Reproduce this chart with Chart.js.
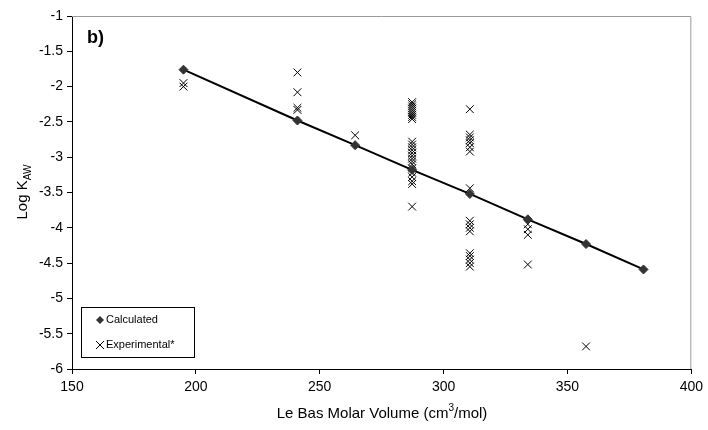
<!DOCTYPE html>
<html>
<head>
<meta charset="utf-8">
<script src="https://cdn.jsdelivr.net/npm/chart.js@4/dist/chart.umd.min.js"></script>
<style>
  html, body { margin: 0; padding: 0; background: #fff; }
  #wrap { width: 708px; height: 430px; }
</style>
</head>
<body>
<div id="wrap"><canvas id="kaw-chart" width="708" height="430"></canvas></div>
<script>
// Le Bas molar volume (x) vs Log KAW (y)
const calcX = [195, 241, 264.3, 287.3, 310.6, 334, 357.5, 380.7];
const calcY = [-1.76, -2.48, -2.83, -3.18, -3.52, -3.88, -4.23, -4.59];

const expX = [
    195, 195,
    241, 241, 241, 241,
    264.3,
    287.3, 287.3, 287.3, 287.3, 287.3, 287.3, 287.3, 287.3, 287.3,
    287.3, 287.3, 287.3, 287.3, 287.3, 287.3, 287.3, 287.3, 287.3,
    287.3, 287.3, 287.3, 287.3, 287.3, 287.3,
    310.6, 310.6, 310.6, 310.6, 310.6, 310.6, 310.6, 310.6,
    310.6, 310.6, 310.6, 310.6, 310.6, 310.6, 310.6, 310.6, 310.6,
    334, 334, 334, 334,
    357.5
];
const expY = [
    -1.95, -2.0,
    -1.8, -2.08, -2.3, -2.33,
    -2.69,
    -2.22, -2.25, -2.28, -2.31, -2.34, -2.37, -2.40, -2.43, -2.46,
    -2.78, -2.82, -2.86, -2.90, -2.94, -2.98, -3.02, -3.06, -3.10,
    -3.16, -3.22, -3.28, -3.34, -3.38, -3.70,
    -2.32, -2.68, -2.72, -2.76, -2.80, -2.86, -2.92, -3.44,
    -3.90, -3.95, -4.00, -4.05, -4.36, -4.40, -4.45, -4.50, -4.55,
    -3.95, -4.02, -4.10, -4.52,
    -5.68
];

const xTicks = [150, 200, 250, 300, 350, 400];
const yTicks = [-1, -1.5, -2, -2.5, -3, -3.5, -4, -4.5, -5, -5.5, -6];

const FONT = '"Liberation Sans", Arial, sans-serif';

const toPts = (xs, ys) => xs.map((x, i) => ({x: x, y: ys[i]}));

// frame, panel label, axis titles and the boxed legend
const decorPlugin = {
    id: 'decor',
    afterDraw(chart) {
        const c = chart.ctx;
        const a = chart.chartArea;
        c.save();
        // grey top / right frame
        c.strokeStyle = '#9a9a9a';
        c.lineWidth = 1;
        c.beginPath();
        c.moveTo(a.left, a.top + 0.5);
        c.lineTo(a.right - 0.5, a.top + 0.5);
        c.lineTo(a.right - 0.5, a.bottom);
        c.stroke();

        c.fillStyle = '#000';
        c.font = 'bold 18px ' + FONT;
        c.textBaseline = 'alphabetic';
        c.textAlign = 'left';
        c.fillText('b)', a.left + 15, a.top + 27);

        // x title
        const t1 = 'Le Bas Molar Volume (cm', t2 = '/mol)';
        c.font = '15px ' + FONT;
        const w1 = c.measureText(t1).width;
        c.font = '10px ' + FONT;
        const ws = c.measureText('3').width;
        c.font = '15px ' + FONT;
        const w2 = c.measureText(t2).width;
        const x0 = 382 - (w1 + ws + w2) / 2;
        const yb = 418;
        c.fillText(t1, x0, yb);
        c.font = '10px ' + FONT;
        c.fillText('3', x0 + w1, yb - 7);
        c.font = '15px ' + FONT;
        c.fillText(t2, x0 + w1 + ws, yb);

        // y title, rotated
        c.save();
        c.translate(27, 192);
        c.rotate(-Math.PI / 2);
        const s1 = 'Log K', s2 = 'AW';
        c.font = '15px ' + FONT;
        const v1 = c.measureText(s1).width;
        c.font = '10px ' + FONT;
        const v2 = c.measureText(s2).width;
        const sx = -(v1 + v2) / 2;
        c.font = '15px ' + FONT;
        c.fillText(s1, sx, 0);
        c.font = '10px ' + FONT;
        c.fillText(s2, sx + v1, 4);
        c.restore();

        // legend
        const lx = 81, ly = 307, lw = 113, lh = 50;
        c.fillStyle = '#fff';
        c.fillRect(lx, ly, lw, lh);
        c.strokeStyle = '#000';
        c.lineWidth = 1;
        c.strokeRect(lx + 0.5, ly + 0.5, lw, lh);

        c.fillStyle = '#333';
        c.beginPath();
        c.moveTo(100, 316); c.lineTo(104, 320); c.lineTo(100, 324); c.lineTo(96, 320);
        c.closePath();
        c.fill();

        c.strokeStyle = '#000';
        c.beginPath();
        c.moveTo(96, 341); c.lineTo(104, 349);
        c.moveTo(104, 341); c.lineTo(96, 349);
        c.stroke();

        c.fillStyle = '#000';
        c.font = '11px ' + FONT;
        c.textBaseline = 'middle';
        c.fillText('Calculated', 106, 320);
        c.fillText('Experimental*', 106, 345);
        c.restore();
    }
};

new Chart(document.getElementById('kaw-chart').getContext('2d'), {
    type: 'scatter',
    data: {
        datasets: [
            {
                label: 'Calculated',
                data: toPts(calcX, calcY),
                showLine: true,
                borderColor: '#000',
                borderWidth: 2,
                pointStyle: 'rectRot',
                pointRadius: 4.5,
                pointBackgroundColor: '#333',
                pointBorderColor: '#333',
                pointBorderWidth: 1,
                order: 1,
            },
            {
                label: 'Experimental*',
                data: toPts(expX, expY),
                showLine: false,
                pointStyle: 'crossRot',
                pointRadius: 5.5,
                pointBorderColor: '#000',
                pointBorderWidth: 1,
                order: 2,
            },
        ]
    },
    options: {
        responsive: false,
        animation: false,
        layout: { padding: { left: 0, top: 16, right: 15, bottom: 0 } },
        scales: {
            x: {
                type: 'linear',
                min: 150, max: 400,
                afterBuildTicks: s => { s.ticks = xTicks.map(v => ({value: v})); },
                afterFit: s => { s.height = 61; },
                border: { color: '#000', width: 1 },
                grid: { drawOnChartArea: false, drawTicks: true, tickLength: 5, color: '#000' },
                ticks: { color: '#000', font: { family: FONT, size: 14 }, padding: 5, maxRotation: 0,
                         callback: v => String(v) },
            },
            y: {
                type: 'linear',
                min: -6, max: -1,
                afterBuildTicks: s => { s.ticks = yTicks.map(v => ({value: v})); },
                afterFit: s => { s.width = 72; },
                border: { color: '#000', width: 1 },
                grid: { drawOnChartArea: false, drawTicks: true, tickLength: 5, color: '#000' },
                ticks: { color: '#000', font: { family: FONT, size: 14 }, padding: 4,
                         callback: v => String(v) },
            }
        },
        plugins: {
            legend: { display: false },
            tooltip: { enabled: false },
        }
    },
    plugins: [decorPlugin]
});
</script>
</body>
</html>
